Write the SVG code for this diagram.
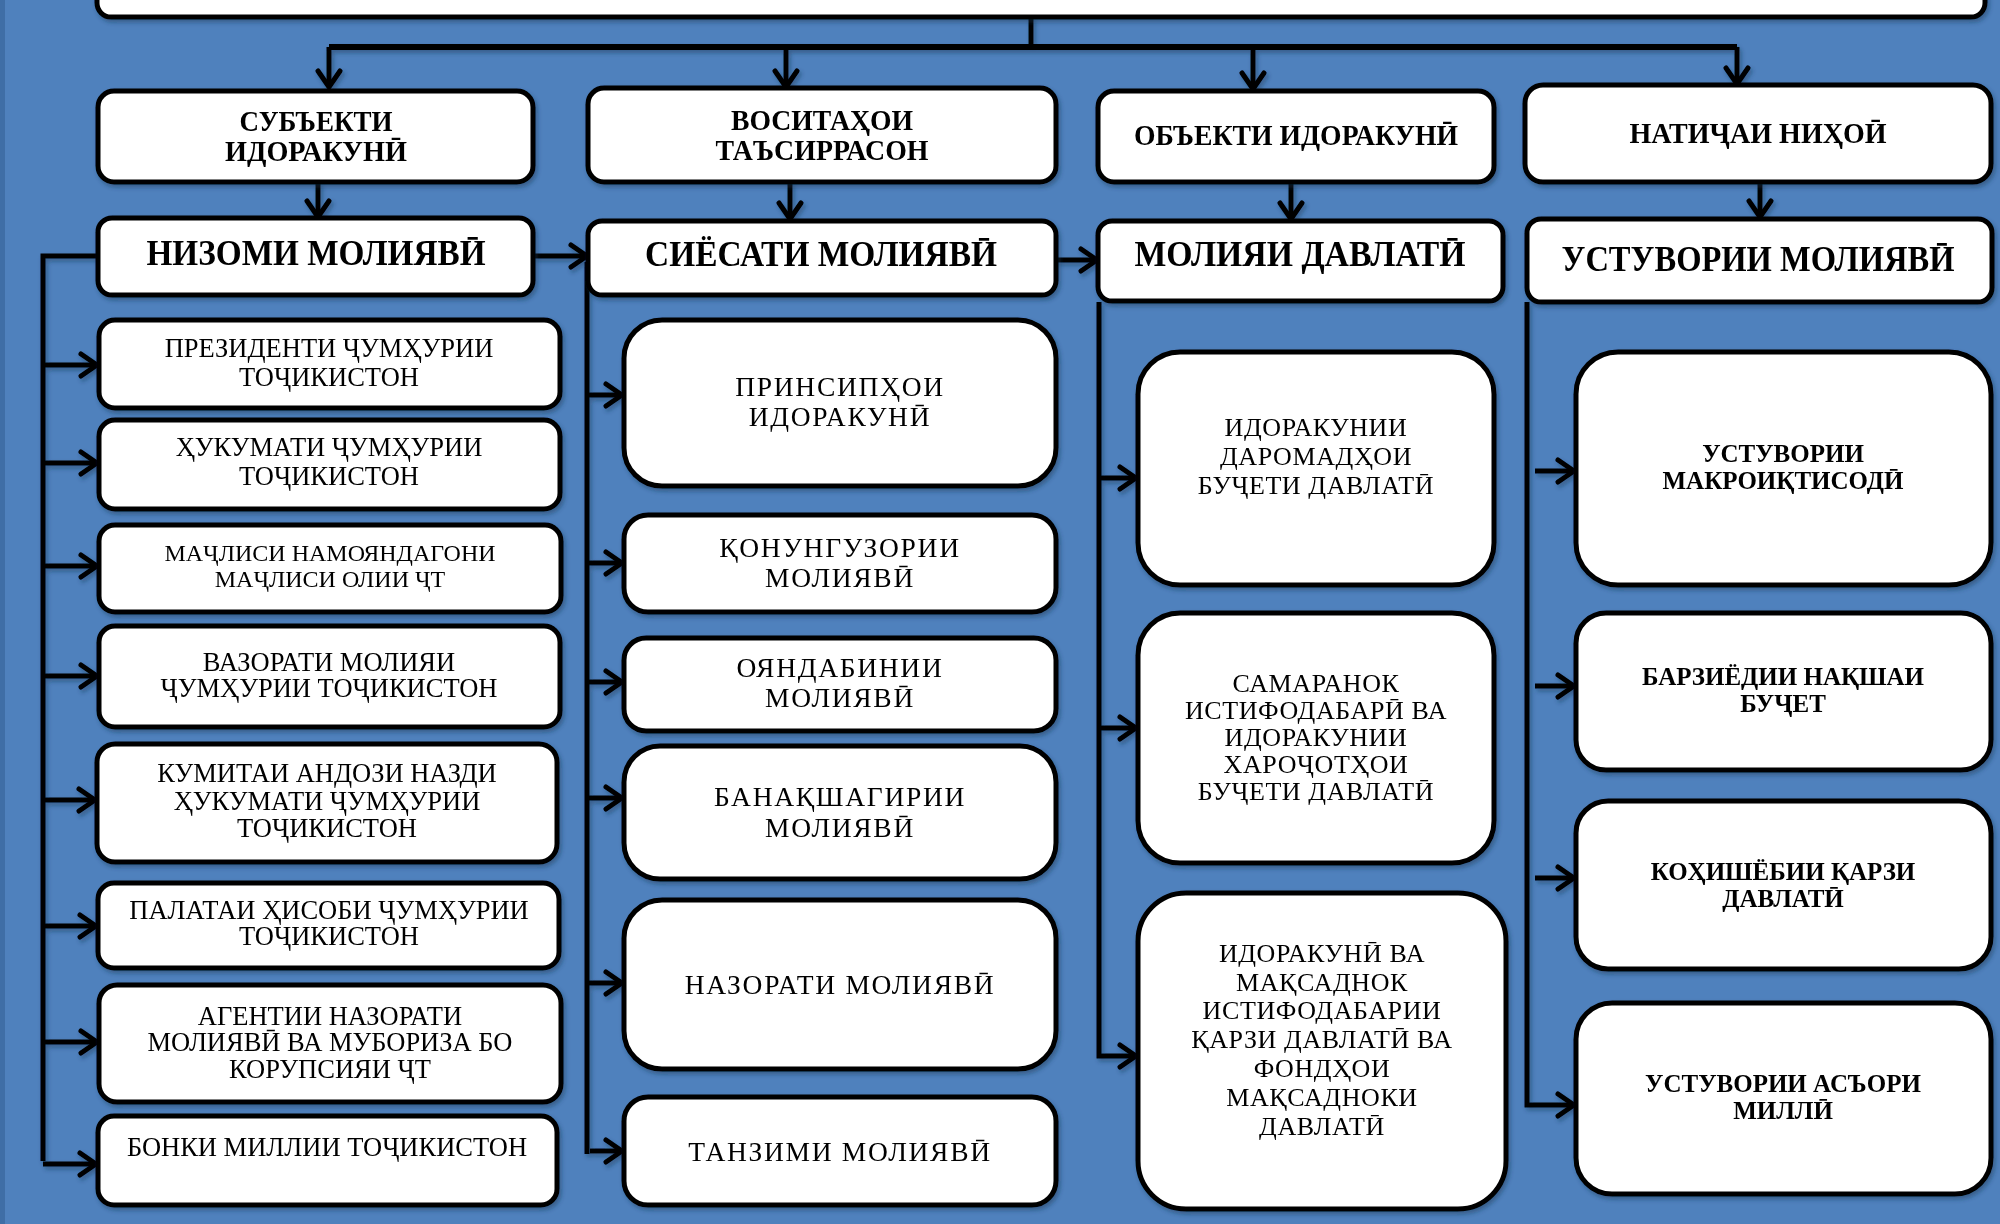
<svg xmlns="http://www.w3.org/2000/svg" width="2000" height="1224" viewBox="0 0 2000 1224">
<style>
.box{fill:#fff;stroke:#000;stroke-width:5}
.ln{fill:none;stroke:#000;stroke-width:5}
.h1{font-family:"Liberation Serif","DejaVu Serif",serif;font-weight:bold;font-size:29px;text-anchor:middle;fill:#000}
.h2{font-family:"Liberation Serif","DejaVu Serif",serif;font-weight:bold;font-size:36px;text-anchor:middle;fill:#000}
.t{font-family:"Liberation Serif","DejaVu Serif",serif;font-size:26.5px;text-anchor:middle;fill:#000}
.t2{font-family:"Liberation Serif","DejaVu Serif",serif;font-size:27.5px;letter-spacing:1.7px;text-anchor:middle;fill:#000}
.t3{font-family:"Liberation Serif","DejaVu Serif",serif;font-size:26px;letter-spacing:0.6px;text-anchor:middle;fill:#000}
.b{font-family:"Liberation Serif","DejaVu Serif",serif;font-weight:bold;font-size:25px;text-anchor:middle;fill:#000}
</style>
<defs>
<marker id="ah" markerUnits="userSpaceOnUse" viewBox="0 0 24 28" markerWidth="24" markerHeight="28" refX="20" refY="14" orient="auto">
<path d="M4,3 L20,14 L4,25" fill="none" stroke="#000" stroke-width="5" stroke-linecap="round" stroke-linejoin="round"/>
</marker>
<filter id="sh" x="-5%" y="-5%" width="115%" height="125%">
<feDropShadow dx="2" dy="3" stdDeviation="2" flood-color="#1c3350" flood-opacity="0.45"/>
</filter>
</defs>
<rect x="0" y="0" width="2000" height="1224" fill="#4F81BD"/>
<rect x="0" y="0" width="5" height="1224" fill="#3f6ea6"/>

<g id="connectors" filter="url(#sh)">
<path class="ln" d="M1031,17 V47"/>
<path class="ln" style="stroke-width:6" d="M329,47 H1737"/>
<path class="ln" d="M329,47 V87" marker-end="url(#ah)"/>
<path class="ln" d="M786,47 V87" marker-end="url(#ah)"/>
<path class="ln" d="M1253,47 V89" marker-end="url(#ah)"/>
<path class="ln" d="M1737,47 V84" marker-end="url(#ah)"/>
<path class="ln" d="M318,182 V217" marker-end="url(#ah)"/>
<path class="ln" d="M790,182 V219" marker-end="url(#ah)"/>
<path class="ln" d="M1291,182 V219" marker-end="url(#ah)"/>
<path class="ln" d="M1760,182 V217" marker-end="url(#ah)"/>
<path class="ln" d="M533,256 H587" marker-end="url(#ah)"/>
<path class="ln" d="M1056,260 H1097" marker-end="url(#ah)"/>
<path class="ln" d="M98,256 H43 V1161"/>
<path class="ln" d="M43,365 H97" marker-end="url(#ah)"/>
<path class="ln" d="M43,463 H97" marker-end="url(#ah)"/>
<path class="ln" d="M43,566 H97" marker-end="url(#ah)"/>
<path class="ln" d="M43,676 H97" marker-end="url(#ah)"/>
<path class="ln" d="M43,800 H95" marker-end="url(#ah)"/>
<path class="ln" d="M43,926 H96" marker-end="url(#ah)"/>
<path class="ln" d="M43,1042 H97" marker-end="url(#ah)"/>
<path class="ln" d="M43,1164 H96" marker-end="url(#ah)"/>
<path class="ln" d="M587,262 V1154"/>
<path class="ln" d="M587,395 H622" marker-end="url(#ah)"/>
<path class="ln" d="M587,563 H622" marker-end="url(#ah)"/>
<path class="ln" d="M587,682 H622" marker-end="url(#ah)"/>
<path class="ln" d="M587,798 H622" marker-end="url(#ah)"/>
<path class="ln" d="M587,983 H622" marker-end="url(#ah)"/>
<path class="ln" d="M590,1151 H622" marker-end="url(#ah)"/>
<path class="ln" d="M1099,302 V1056 H1136" marker-end="url(#ah)"/>
<path class="ln" d="M1099,478 H1136" marker-end="url(#ah)"/>
<path class="ln" d="M1099,728 H1136" marker-end="url(#ah)"/>
<path class="ln" d="M1527,302 V1105 H1574" marker-end="url(#ah)"/>
<path class="ln" d="M1535,471 H1574" marker-end="url(#ah)"/>
<path class="ln" d="M1535,686 H1574" marker-end="url(#ah)"/>
<path class="ln" d="M1535,878 H1574" marker-end="url(#ah)"/>
</g>

<g id="top" filter="url(#sh)"><rect class="box" x="97" y="-40" width="1888" height="57" rx="14"/></g>

<g id="subject" filter="url(#sh)"><rect class="box" x="98" y="91" width="435" height="91" rx="16"/>
<text class="h1" x="316" y="131" textLength="153" lengthAdjust="spacingAndGlyphs">СУБЪЕКТИ</text>
<text class="h1" x="316" y="161" textLength="182" lengthAdjust="spacingAndGlyphs">ИДОРАКУНӢ</text></g>
<g id="means" filter="url(#sh)"><rect class="box" x="588" y="88" width="468" height="94" rx="16"/>
<text class="h1" x="822" y="130" textLength="182" lengthAdjust="spacingAndGlyphs">ВОСИТАҲОИ</text>
<text class="h1" x="822" y="160" textLength="213" lengthAdjust="spacingAndGlyphs">ТАЪСИРРАСОН</text></g>
<g id="object" filter="url(#sh)"><rect class="box" x="1098" y="91" width="396" height="91" rx="16"/>
<text class="h1" x="1296" y="145" textLength="324" lengthAdjust="spacingAndGlyphs">ОБЪЕКТИ ИДОРАКУНӢ</text></g>
<g id="result" filter="url(#sh)"><rect class="box" x="1525" y="85" width="466" height="97" rx="18"/>
<text class="h1" x="1758" y="143" textLength="257" lengthAdjust="spacingAndGlyphs">НАТИҶАИ НИҲОӢ</text></g>

<g id="system" filter="url(#sh)"><rect class="box" x="98" y="218" width="435" height="77" rx="14"/>
<text class="h2" x="316" y="265" textLength="339" lengthAdjust="spacingAndGlyphs">НИЗОМИ МОЛИЯВӢ</text></g>
<g id="policy" filter="url(#sh)"><rect class="box" x="588" y="221" width="468" height="74" rx="14"/>
<text class="h2" x="821" y="266" textLength="352" lengthAdjust="spacingAndGlyphs">СИЁСАТИ МОЛИЯВӢ</text></g>
<g id="publicfin" filter="url(#sh)"><rect class="box" x="1098" y="221" width="405" height="80" rx="14"/>
<text class="h2" x="1300" y="266" textLength="331" lengthAdjust="spacingAndGlyphs">МОЛИЯИ ДАВЛАТӢ</text></g>
<g id="stability" filter="url(#sh)"><rect class="box" x="1527" y="219" width="465" height="83" rx="14"/>
<text class="h2" x="1758" y="271" textLength="393" lengthAdjust="spacingAndGlyphs">УСТУВОРИИ МОЛИЯВӢ</text></g>

<g id="l1" filter="url(#sh)"><rect class="box" x="99" y="320" width="461" height="88" rx="16"/>
<text class="t" x="329" y="357">ПРЕЗИДЕНТИ ҶУМҲУРИИ</text><text class="t" x="329" y="386">ТОҶИКИСТОН</text></g>
<g id="l2" filter="url(#sh)"><rect class="box" x="99" y="420" width="461" height="89" rx="16"/>
<text class="t" x="329" y="456">ҲУКУМАТИ ҶУМҲУРИИ</text><text class="t" x="329" y="485">ТОҶИКИСТОН</text></g>
<g id="l3" filter="url(#sh)"><rect class="box" x="99" y="525" width="462" height="87" rx="16"/>
<text class="t" x="330" y="561" style="font-size:24px">МАҶЛИСИ НАМОЯНДАГОНИ</text><text class="t" x="330" y="587" style="font-size:24px">МАҶЛИСИ ОЛИИ ҶТ</text></g>
<g id="l4" filter="url(#sh)"><rect class="box" x="99" y="626" width="461" height="101" rx="16"/>
<text class="t" x="329" y="671">ВАЗОРАТИ МОЛИЯИ</text><text class="t" x="329" y="697">ҶУМҲУРИИ ТОҶИКИСТОН</text></g>
<g id="l5" filter="url(#sh)"><rect class="box" x="97" y="744" width="460" height="118" rx="18"/>
<text class="t" x="327" y="782">КУМИТАИ АНДОЗИ НАЗДИ</text><text class="t" x="327" y="810">ҲУКУМАТИ ҶУМҲУРИИ</text><text class="t" x="327" y="837">ТОҶИКИСТОН</text></g>
<g id="l6" filter="url(#sh)"><rect class="box" x="98" y="883" width="461" height="85" rx="16"/>
<text class="t" x="329" y="919">ПАЛАТАИ ҲИСОБИ ҶУМҲУРИИ</text><text class="t" x="329" y="945">ТОҶИКИСТОН</text></g>
<g id="l7" filter="url(#sh)"><rect class="box" x="99" y="985" width="462" height="117" rx="18"/>
<text class="t" x="330" y="1025">АГЕНТИИ НАЗОРАТИ</text><text class="t" x="330" y="1051">МОЛИЯВӢ ВА МУБОРИЗА БО</text><text class="t" x="330" y="1078">КОРУПСИЯИ ҶТ</text></g>
<g id="l8" filter="url(#sh)"><rect class="box" x="98" y="1116" width="459" height="89" rx="16"/>
<text class="t" x="327" y="1156">БОНКИ МИЛЛИИ ТОҶИКИСТОН</text></g>

<g id="m1" filter="url(#sh)"><rect class="box" x="624" y="320" width="432" height="166" rx="38"/>
<text class="t2" x="840" y="396">ПРИНСИПҲОИ</text><text class="t2" x="840" y="426">ИДОРАКУНӢ</text></g>
<g id="m2" filter="url(#sh)"><rect class="box" x="624" y="515" width="432" height="97" rx="24"/>
<text class="t2" x="840" y="557">ҚОНУНГУЗОРИИ</text><text class="t2" x="840" y="587">МОЛИЯВӢ</text></g>
<g id="m3" filter="url(#sh)"><rect class="box" x="624" y="638" width="432" height="93" rx="22"/>
<text class="t2" x="840" y="677">ОЯНДАБИНИИ</text><text class="t2" x="840" y="707">МОЛИЯВӢ</text></g>
<g id="m4" filter="url(#sh)"><rect class="box" x="624" y="746" width="432" height="133" rx="36"/>
<text class="t2" x="840" y="806">БАНАҚШАГИРИИ</text><text class="t2" x="840" y="837">МОЛИЯВӢ</text></g>
<g id="m5" filter="url(#sh)"><rect class="box" x="624" y="900" width="432" height="169" rx="38"/>
<text class="t2" x="840" y="994">НАЗОРАТИ МОЛИЯВӢ</text></g>
<g id="m6" filter="url(#sh)"><rect class="box" x="624" y="1097" width="432" height="108" rx="24"/>
<text class="t2" x="840" y="1161">ТАНЗИМИ МОЛИЯВӢ</text></g>

<g id="n1" filter="url(#sh)"><rect class="box" x="1138" y="352" width="356" height="233" rx="42"/>
<text class="t3" x="1316" y="436">ИДОРАКУНИИ</text><text class="t3" x="1316" y="465">ДАРОМАДҲОИ</text><text class="t3" x="1316" y="494">БУҶЕТИ ДАВЛАТӢ</text></g>
<g id="n2" filter="url(#sh)"><rect class="box" x="1138" y="613" width="356" height="250" rx="42"/>
<text class="t3" x="1316" y="692">САМАРАНОК</text><text class="t3" x="1316" y="719">ИСТИФОДАБАРӢ ВА</text><text class="t3" x="1316" y="746">ИДОРАКУНИИ</text><text class="t3" x="1316" y="773">ХАРОҶОТҲОИ</text><text class="t3" x="1316" y="800">БУҶЕТИ ДАВЛАТӢ</text></g>
<g id="n3" filter="url(#sh)"><rect class="box" x="1138" y="893" width="368" height="316" rx="48"/>
<text class="t3" x="1322" y="962">ИДОРАКУНӢ ВА</text><text class="t3" x="1322" y="991">МАҚСАДНОК</text><text class="t3" x="1322" y="1019">ИСТИФОДАБАРИИ</text><text class="t3" x="1322" y="1048">ҚАРЗИ ДАВЛАТӢ ВА</text><text class="t3" x="1322" y="1077">ФОНДҲОИ</text><text class="t3" x="1322" y="1106">МАҚСАДНОКИ</text><text class="t3" x="1322" y="1135">ДАВЛАТӢ</text></g>

<g id="p1" filter="url(#sh)"><rect class="box" x="1576" y="352" width="415" height="233" rx="42"/>
<text class="b" x="1783" y="462">УСТУВОРИИ</text><text class="b" x="1783" y="489">МАКРОИҚТИСОДӢ</text></g>
<g id="p2" filter="url(#sh)"><rect class="box" x="1576" y="613" width="415" height="157" rx="30"/>
<text class="b" x="1783" y="685">БАРЗИЁДИИ НАҚШАИ</text><text class="b" x="1783" y="712">БУҶЕТ</text></g>
<g id="p3" filter="url(#sh)"><rect class="box" x="1576" y="801" width="415" height="168" rx="32"/>
<text class="b" x="1783" y="880">КОҲИШЁБИИ ҚАРЗИ</text><text class="b" x="1783" y="907">ДАВЛАТӢ</text></g>
<g id="p4" filter="url(#sh)"><rect class="box" x="1576" y="1003" width="415" height="191" rx="36"/>
<text class="b" x="1783" y="1092">УСТУВОРИИ АСЪОРИ</text><text class="b" x="1783" y="1119">МИЛЛӢ</text></g>
</svg>
